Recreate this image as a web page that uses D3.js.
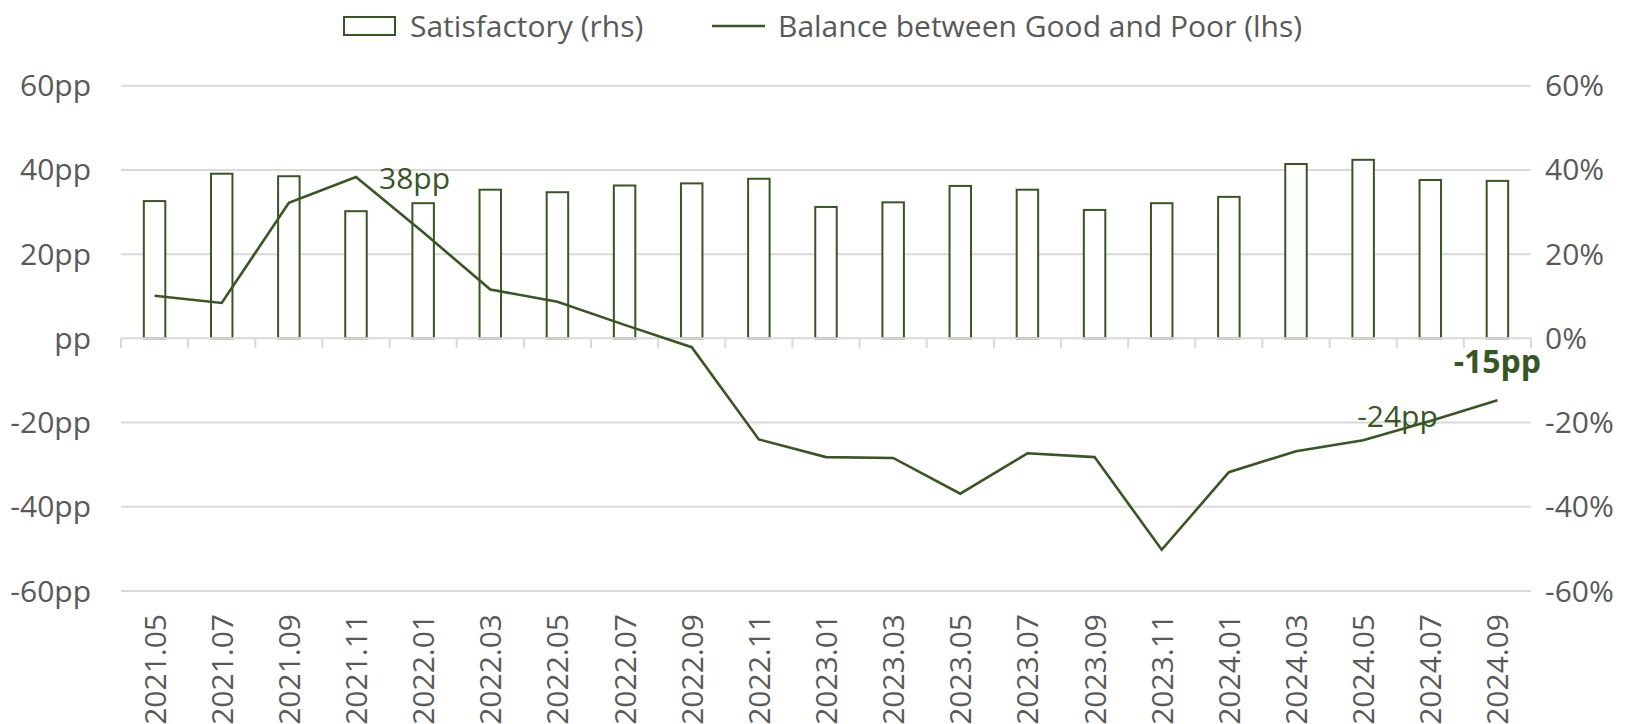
<!DOCTYPE html>
<html>
<head>
<meta charset="utf-8">
<script src="https://cdn.jsdelivr.net/npm/d3@7"></script>
<style>
  html, body { margin: 0; padding: 0; background: #ffffff; }
  svg { display: block; }
  text { font-family: "Open Sans", "Noto Sans", sans-serif; }
</style>
</head>
<body>
<svg id="chart" width="1637" height="724"></svg>
<script>
const categories = ["2021.05","2021.07","2021.09","2021.11","2022.01","2022.03","2022.05","2022.07","2022.09","2022.11","2023.01","2023.03","2023.05","2023.07","2023.09","2023.11","2024.01","2024.03","2024.05","2024.07","2024.09"];
const satisfactory = [32.6, 39.1, 38.5, 30.2, 32.1, 35.3, 34.7, 36.3, 36.8, 37.9, 31.2, 32.3, 36.2, 35.3, 30.5, 32.1, 33.6, 41.4, 42.4, 37.6, 37.4];
const balance = [10.1, 8.4, 32.2, 38.3, 25.2, 11.6, 8.7, 3.2, -2.1, -24.0, -28.2, -28.4, -36.9, -27.3, -28.2, -50.2, -31.8, -26.8, -24.2, -19.6, -14.7];
const leftTicks = [-60, -40, -20, 0, 20, 40, 60];
const rightTicks = [-60, -40, -20, 0, 20, 40, 60];
const seriesNames = ["Satisfactory (rhs)", "Balance between Good and Poor (lhs)"];
const annotations = [
  { index: 3, text: "38pp", bold: false },
  { index: 18, text: "-24pp", bold: false },
  { index: 20, text: "-15pp", bold: true }
];

(function () {
const green = "#375623";
const gridColor = "#d9d9d9";
const textColor = "#595959";
const fs = 30;

const svg = d3.select("#chart");
const pLeft = 121, pRight = 1531, pTop = 85.7, pBottom = 591;

const x = d3.scaleBand().domain(categories).range([pLeft, pRight]).paddingInner(0.68).paddingOuter(0.34);
const xb = d3.scaleBand().domain(categories).range([pLeft, pRight]);
const yL = d3.scaleLinear().domain([-60, 60]).range([pBottom, pTop]);
const yR = d3.scaleLinear().domain([-60, 60]).range([pBottom, pTop]);

// gridlines
svg.append("g").selectAll("line").data(leftTicks.filter(d => d !== 0)).join("line")
  .attr("x1", pLeft).attr("x2", pRight)
  .attr("y1", d => yL(d)).attr("y2", d => yL(d))
  .attr("stroke", gridColor).attr("stroke-width", 2);

// bars
svg.append("g").selectAll("rect").data(satisfactory).join("rect")
  .attr("x", (d, i) => x(categories[i]))
  .attr("width", x.bandwidth())
  .attr("y", d => yR(d))
  .attr("height", d => yR(0) - yR(d))
  .attr("fill", "#ffffff")
  .attr("stroke", green).attr("stroke-width", 2);

// zero axis line with ticks
const axisG = svg.append("g");
axisG.append("line").attr("x1", pLeft).attr("x2", pRight).attr("y1", yL(0)).attr("y2", yL(0))
  .attr("stroke", gridColor).attr("stroke-width", 2);
const boundaries = categories.map(c => xb(c)).concat([pRight]);
axisG.selectAll("line.tick").data(boundaries).join("line").attr("class", "tick")
  .attr("x1", d => d).attr("x2", d => d)
  .attr("y1", yL(0)).attr("y2", yL(0) + 10)
  .attr("stroke", gridColor).attr("stroke-width", 2);

// line
const line = d3.line()
  .x((d, i) => xb(categories[i]) + xb.bandwidth() / 2)
  .y(d => yL(d));
svg.append("path").datum(balance)
  .attr("d", line)
  .attr("fill", "none")
  .attr("stroke", green).attr("stroke-width", 2.6)
  .attr("stroke-linejoin", "miter");

// left axis labels
svg.append("g").selectAll("text").data(leftTicks).join("text")
  .attr("x", 91).attr("y", d => yL(d))
  .attr("dy", "0.35em")
  .attr("text-anchor", "end")
  .attr("font-size", fs).attr("fill", textColor)
  .text(d => (d === 0 ? "" : d) + "pp");

// right axis labels
svg.append("g").selectAll("text").data(rightTicks).join("text")
  .attr("x", 1545).attr("y", d => yR(d))
  .attr("dy", "0.35em")
  .attr("text-anchor", "start")
  .attr("font-size", fs).attr("fill", textColor)
  .text(d => d + "%");

// x labels
svg.append("g").selectAll("text").data(categories).join("text")
  .attr("transform", d => `translate(${xb(d) + xb.bandwidth() / 2 + 11},614) rotate(-90)`)
  .attr("text-anchor", "end")
  .attr("font-size", fs).attr("fill", textColor)
  .text(d => d);

// annotations
const annG = svg.append("g");
annotations.forEach(a => {
  const cx = xb(categories[a.index]) + xb.bandwidth() / 2;
  const cy = yL(balance[a.index]);
  const t = annG.append("text")
    .attr("font-size", a.bold ? 32 : fs)
    .attr("font-weight", a.bold ? "bold" : "normal")
    .attr("fill", green)
    .text(a.text);
  if (a.index === 3) t.attr("x", cx + 23).attr("y", cy + 12).attr("text-anchor", "start");
  else if (a.index === 18) t.attr("x", cx - 6).attr("y", cy - 13).attr("text-anchor", "start");
  else t.attr("x", cx).attr("y", cy - 27).attr("text-anchor", "middle");
});

// legend
const lg = svg.append("g");
lg.append("rect").attr("x", 344).attr("y", 17).attr("width", 51).attr("height", 18)
  .attr("fill", "#fff").attr("stroke", green).attr("stroke-width", 2);
lg.append("text").attr("x", 410).attr("y", 26).attr("dy", "0.35em")
  .attr("font-size", fs).attr("fill", textColor).text(seriesNames[0]);
lg.append("line").attr("x1", 712).attr("x2", 765).attr("y1", 26).attr("y2", 26)
  .attr("stroke", green).attr("stroke-width", 2.6);
lg.append("text").attr("x", 778).attr("y", 26).attr("dy", "0.35em")
  .attr("font-size", fs).attr("fill", textColor).text(seriesNames[1]);
})();
</script>
</body>
</html>
